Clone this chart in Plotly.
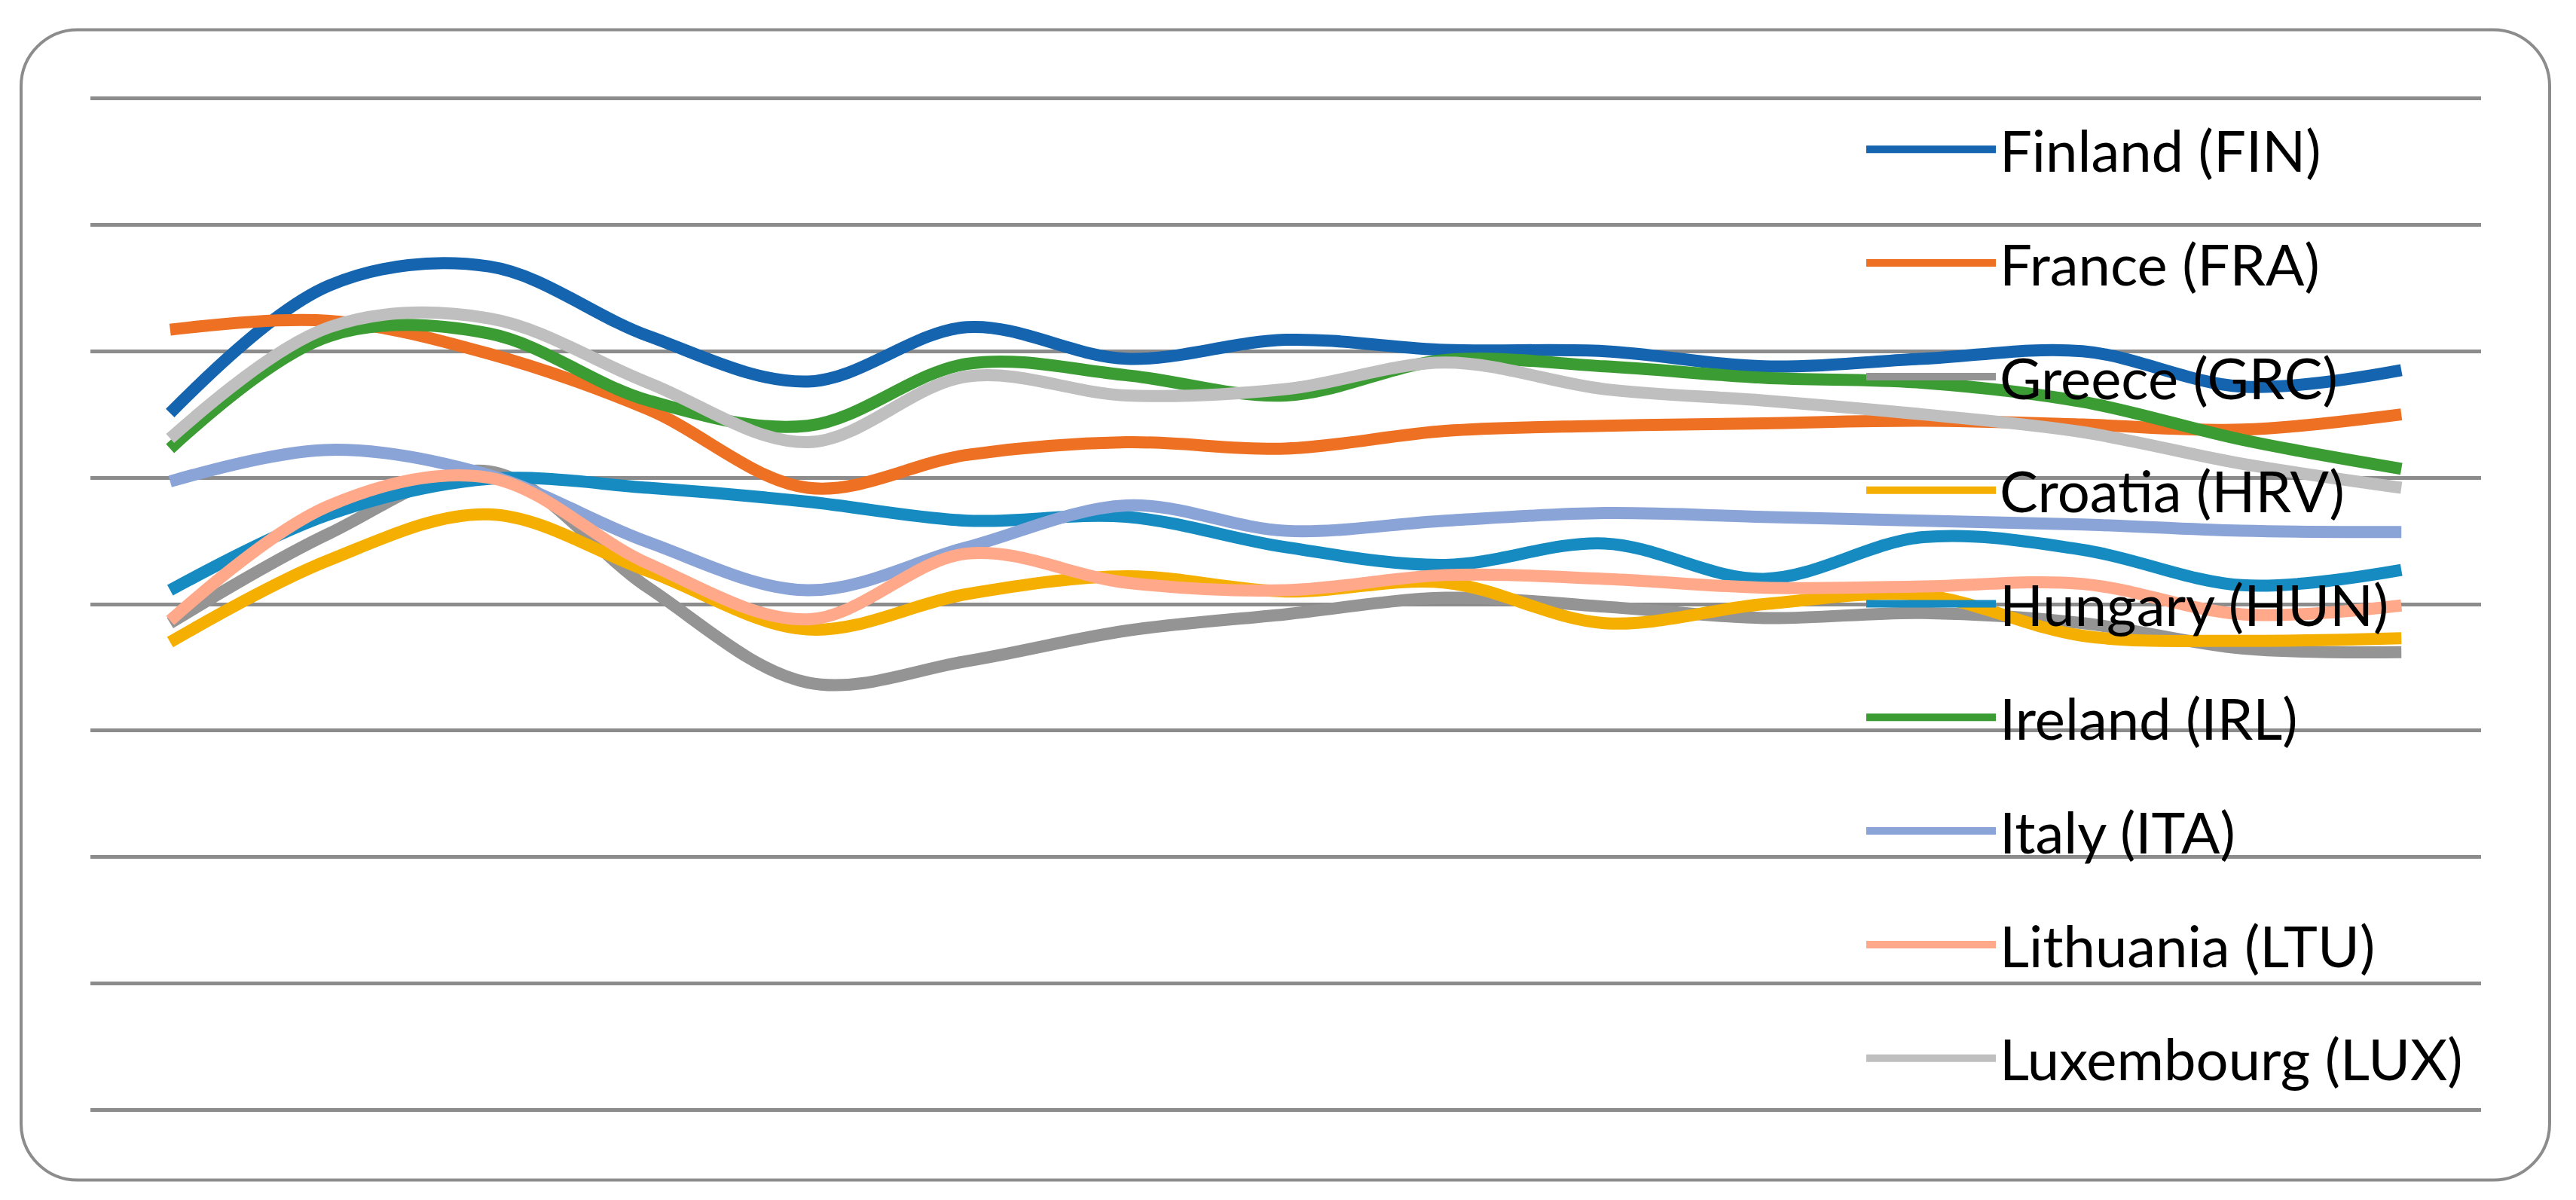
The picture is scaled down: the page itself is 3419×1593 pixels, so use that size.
import plotly.graph_objects as go

# ---- data (axis units = gridline steps) ----
periods = list(range(15))
countries = ["Finland (FIN)", "France (FRA)", "Greece (GRC)", "Croatia (HRV)",
             "Hungary (HUN)", "Ireland (IRL)", "Italy (ITA)", "Lithuania (LTU)",
             "Luxembourg (LUX)"]
FIN = [5.51, 6.52, 6.67, 6.12, 5.76, 6.19, 5.94, 6.09, 6.01, 6.00, 5.88, 5.94, 6.00, 5.72, 5.85]
FRA = [6.17, 6.24, 5.98, 5.54, 4.92, 5.18, 5.28, 5.23, 5.37, 5.41, 5.43, 5.45, 5.42, 5.38, 5.50]
GRC = [3.85, 4.56, 5.05, 4.13, 3.38, 3.55, 3.79, 3.92, 4.05, 3.98, 3.89, 3.93, 3.85, 3.65, 3.62]
HRV = [3.70, 4.35, 4.71, 4.26, 3.80, 4.08, 4.22, 4.10, 4.17, 3.85, 4.00, 4.07, 3.75, 3.71, 3.73]
HUN = [4.11, 4.71, 4.99, 4.92, 4.81, 4.66, 4.69, 4.45, 4.31, 4.48, 4.20, 4.53, 4.43, 4.15, 4.27]
IRL = [5.23, 6.12, 6.14, 5.61, 5.41, 5.90, 5.81, 5.65, 5.93, 5.88, 5.79, 5.75, 5.60, 5.30, 5.07]
ITA = [4.97, 5.22, 5.02, 4.49, 4.11, 4.45, 4.78, 4.58, 4.66, 4.72, 4.69, 4.66, 4.63, 4.58, 4.57]
LTU = [3.87, 4.78, 5.00, 4.32, 3.88, 4.40, 4.17, 4.11, 4.23, 4.20, 4.13, 4.14, 4.16, 3.92, 3.99]
LUX = [5.31, 6.19, 6.26, 5.75, 5.28, 5.80, 5.65, 5.70, 5.91, 5.70, 5.61, 5.50, 5.36, 5.11, 4.92]
series = [FIN, FRA, GRC, HRV, HUN, IRL, ITA, LTU, LUX]
colors = ["#1464AF", "#EE7023", "#949494", "#F5AF00", "#168BC1",
          "#3C9C34", "#8AA4D7", "#FFA98A", "#BFBFBF"]
y_ticks = list(range(0, 9))

W, H = 3419, 1593
# gridline 0 at 1474 px, gridline 8 at 130 px; extend range slightly so the
# end gridlines are drawn
unit = (1474 - 130) / 8.0
ext = 0.05
YMIN, YMAX = 0 - ext, 8 + ext
L, R = 120, 3293
T, B = 130 - ext * unit, 1474 + ext * unit
PW, PH = R - L, B - T

fig = go.Figure()
for name, vals, col in zip(countries, series, colors):
    fig.add_trace(go.Scatter(
        x=periods, y=vals, name=name, mode="lines",
        line=dict(color=col, width=16, shape="spline", smoothing=1.0),
        legendgroup=name, hoverinfo="skip"))

def px2paper_x(px):
    return (px - L) / PW

def px2paper_y(py):
    return (B - py) / PH

# rounded chart border
x0, x1 = px2paper_x(28), px2paper_x(3384)
y0, y1 = px2paper_y(1567), px2paper_y(39)
rx, ry = 75 / PW, 75 / PH
k = 0.5523
path = (f"M{x0+rx},{y1} L{x1-rx},{y1} "
        f"C{x1-rx+k*rx},{y1} {x1},{y1-ry+k*ry} {x1},{y1-ry} "
        f"L{x1},{y0+ry} "
        f"C{x1},{y0+ry-k*ry} {x1-rx+k*rx},{y0} {x1-rx},{y0} "
        f"L{x0+rx},{y0} "
        f"C{x0+rx-k*rx},{y0} {x0},{y0+ry-k*ry} {x0},{y0+ry} "
        f"L{x0},{y1-ry} "
        f"C{x0},{y1-ry+k*ry} {x0+rx-k*rx},{y1} {x0+rx},{y1} Z")
fig.add_shape(type="path", path=path, xref="paper", yref="paper",
              line=dict(color="#8C8C8C", width=4), layer="below")

fig.update_layout(
    width=W, height=H, autosize=False,
    margin=dict(l=L, r=W - R, t=T, b=H - B, pad=0),
    paper_bgcolor="white", plot_bgcolor="white",
    font=dict(family="Lato, Carlito, sans-serif", color="black"),
    showlegend=True,
    legend=dict(
        x=px2paper_x(2472), xanchor="left",
        y=px2paper_y(142), yanchor="top",
        bgcolor="rgba(0,0,0,0)", borderwidth=0,
        font=dict(size=76, family="Lato, sans-serif", color="black"),
        itemwidth=172, tracegroupgap=49, traceorder="grouped",
        maxheight=1593,
        itemclick=False, itemdoubleclick=False),
    xaxis=dict(range=[-0.5, 14.5], showgrid=False, zeroline=False,
               showticklabels=False, ticks="", showline=False, fixedrange=True),
    yaxis=dict(range=[YMIN, YMAX], tickvals=y_ticks, showgrid=True, gridcolor="#8C8C8C",
               gridwidth=5, zeroline=False, showticklabels=False, ticks="",
               showline=False, fixedrange=True),
)

fig.write_html("out.html", config={"displayModeBar": False, "staticPlot": True},
               post_script="document.body.style.margin='0';document.body.style.overflow='hidden';")
